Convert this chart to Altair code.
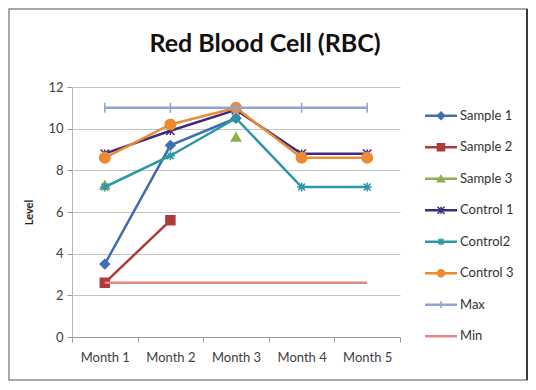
import altair as alt
import pandas as pd

title_text = "Red Blood Cell (RBC)"
months = ["Month 1", "Month 2", "Month 3", "Month 4", "Month 5"]
series = ["Sample 1", "Sample 2", "Sample 3", "Control 1", "Control2", "Control 3", "Max", "Min"]
sample1 = [3.5, 9.2, 10.5, None, None]
sample2 = [2.6, 5.6, None, None, None]
sample3 = [7.3, None, 9.6, None, None]
control1 = [8.8, 9.9, 10.9, 8.8, 8.8]
control2 = [7.2, 8.7, 10.5, 7.2, 7.2]
control3 = [8.6, 10.2, 11.0, 8.6, 8.6]
max_vals = [11, 11, 11, 11, 11]
min_vals = [2.6, 2.6, 2.6, 2.6, 2.6]
values = [sample1, sample2, sample3, control1, control2, control3, max_vals, min_vals]

colors = ["#3F6FB0", "#B03A3A", "#8DB04A", "#3D2C7C", "#2C97A6", "#EE8A32", "#8EA5CC", "#E08888"]
shapes = ["diamond", "square", "triangle-up",
          "M-1,-1L1,1M-1,1L1,-1M0,-1L0,1",
          "M-1,0L1,0M0,-1L0,1M-0.75,-0.75L0.75,0.75M-0.75,0.75L0.75,-0.75",
          "circle", "M0,-1L0,1", "M0,0L0,0"]
sizes = [85, 80, 85, 70, 80, 110, 100, 1]

rows = []
for s, vals in zip(series, values):
    for m, v in zip(months, vals):
        rows.append({"Series": s, "Month": m, "Level": v})
df = pd.DataFrame(rows)

x = alt.X("Month:N", sort=months, title=None,
          scale=alt.Scale(paddingInner=0, paddingOuter=0),
          axis=alt.Axis(labelAngle=0, labelFont="Lato", labelFontSize=13, labelColor="#404040",
                        domainColor="#9a9a9a", tickColor="#9a9a9a", tickBand="extent", tickSize=5,
                        labelPadding=9, grid=False))
y = alt.Y("Level:Q", title="Level",
          scale=alt.Scale(domain=[0, 12]),
          axis=alt.Axis(values=[0, 2, 4, 6, 8, 10, 12], labelFont="Lato", labelFontSize=13,
                        labelColor="#404040", domain=True, domainColor="#b5b5b5",
                        tickColor="#9a9a9a", tickSize=5,
                        gridColor="#c4c4c4", titleFont="Lato", titleFontSize=11,
                        titleFontWeight="bold", titleColor="#222", titlePadding=13, labelPadding=4))

one = pd.DataFrame({"k": [0]})
frame = alt.Chart(one).mark_rect(filled=False, stroke="#8c8c8c", strokeWidth=1.5).encode(
    x=alt.value(-63), x2=alt.value(455), y=alt.value(-78), y2=alt.value(293))
frame_shadow = alt.Chart(one).mark_rule(stroke="#3a3a3a", strokeWidth=2).encode(
    x=alt.value(455), x2=alt.value(455), y=alt.value(-78), y2=alt.value(293))
title = alt.Chart(one).mark_text(text=title_text, font="Lato", fontSize=25, fontWeight="bold",
                                 color="#111111", align="center", baseline="alphabetic").encode(
    x=alt.value(193), y=alt.value(-35))

layers = [frame, frame_shadow, title]
for s, c, sh, sz in zip(series, colors, shapes, sizes):
    base = alt.Chart(df).transform_filter(alt.datum.Series == s)
    line = base.mark_line(color=c, strokeWidth=2.5, invalid="break-paths-show-domains").encode(x=x, y=y)
    pts = base.mark_point(shape=sh, size=sz, filled=True, fill=c, stroke=c, strokeWidth=1.5, opacity=1).encode(
        x=x, y=y).transform_filter("isValid(datum.Level)")
    layers += [line, pts]

main = alt.layer(*layers)

leg_df = pd.DataFrame({"Series": series})
ly = alt.Y("Series:N", sort=series, axis=None, scale=alt.Scale(range=[13, 265], padding=0))
cscale = alt.Scale(domain=series, range=colors)
leg_rule = alt.Chart(leg_df).mark_rule(strokeWidth=2.5).encode(
    x=alt.value(353), x2=alt.value(385), y=ly,
    color=alt.Color("Series:N", sort=series, scale=cscale, legend=None))
leg_pts = alt.Chart(leg_df).mark_point(filled=True, strokeWidth=1.5, opacity=1).encode(
    x=alt.value(369), y=ly,
    fill=alt.Fill("Series:N", sort=series, scale=cscale, legend=None),
    stroke=alt.Stroke("Series:N", sort=series, scale=cscale, legend=None),
    shape=alt.Shape("Series:N", sort=series, scale=alt.Scale(domain=series, range=shapes), legend=None),
    size=alt.Size("Series:N", sort=series, scale=alt.Scale(domain=series, range=[s * 0.6 for s in sizes]), legend=None))
leg_text = alt.Chart(leg_df).mark_text(align="left", baseline="middle", font="Lato", fontSize=13,
                                        color="#333333").encode(
    x=alt.value(388), y=ly, text="Series:N")
legend = alt.layer(leg_rule, leg_pts, leg_text)

chart = alt.layer(main, legend).resolve_scale(y="independent").properties(
    width=328, height=250,
    padding={"left": 0, "top": 0, "right": 0, "bottom": 0},
    background="white"
).configure_view(stroke=None)

chart.save("out.html", embed_options={"renderer": "svg", "actions": False})
